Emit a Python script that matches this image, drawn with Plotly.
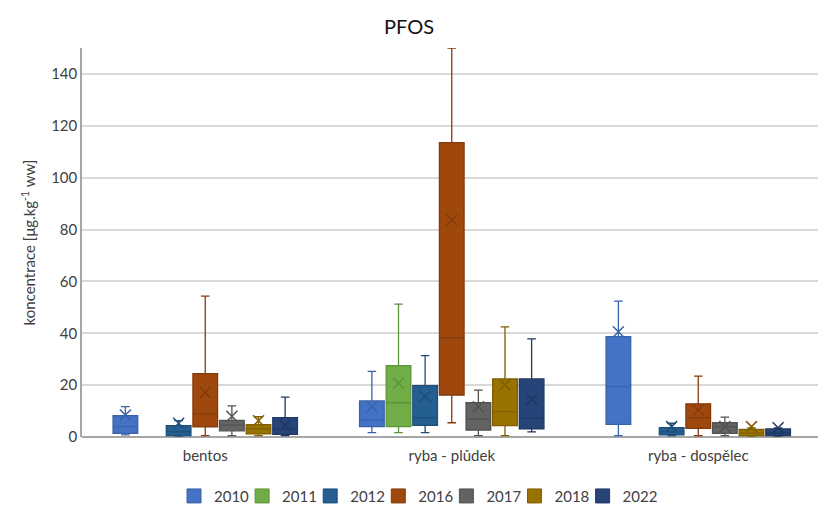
import plotly.graph_objects as go

# Categories and series
categories = ["bentos", "ryba - plůdek", "ryba - dospělec"]
years = ["2010", "2011", "2012", "2016", "2017", "2018", "2022"]

# Box statistics per year (rows) for each category (columns); None = no data
lower = [
    [0.8, 1.7, 0.5],
    [None, 1.7, None],
    [0.3, 1.7, 0.5],
    [0.5, 5.5, 0.5],
    [0.5, 0.5, 0.5],
    [0.5, 0.5, 0.3],
    [0.5, 2.0, 0.3],
]
q1 = [
    [1.4, 4.0, 4.9],
    [None, 4.0, None],
    [0.5, 4.5, 0.8],
    [3.9, 16.2, 3.3],
    [2.4, 2.7, 1.4],
    [1.2, 4.4, 0.5],
    [1.0, 3.1, 0.5],
]
median = [
    [4.0, 6.6, 19.4],
    [None, 13.2, None],
    [2.0, 7.5, 2.0],
    [8.9, 38.3, 7.5],
    [4.6, 6.9, 4.0],
    [3.1, 9.8, 1.5],
    [3.0, 7.2, 1.5],
]
q3 = [
    [8.2, 13.9, 38.7],
    [None, 27.5, None],
    [4.4, 19.8, 3.6],
    [24.4, 113.5, 12.8],
    [6.4, 13.2, 5.5],
    [4.8, 22.4, 2.9],
    [7.5, 22.4, 3.1],
]
upper = [
    [11.7, 25.3, 52.4],
    [None, 51.2, None],
    [6.3, 31.4, 5.3],
    [54.3, 150.0, 23.5],
    [12.0, 18.1, 7.7],
    [7.8, 42.5, 3.5],
    [15.4, 37.8, 3.5],
]
mean = [
    [8.5, 11.7, 40.6],
    [None, 20.7, None],
    [5.3, 15.6, 4.0],
    [17.1, 83.7, 10.4],
    [8.0, 11.7, 4.0],
    [6.3, 20.1, 4.0],
    [4.4, 14.5, 3.6],
]

fills = ["#4472C4", "#70AD47", "#255E91", "#9E480E", "#636363", "#997300", "#264478"]
edges = ["#3A62AA", "#5E9439", "#1E4E7A", "#843B0B", "#525252", "#7F5F00", "#1E3864"]

SLOT = 0.108   # spacing between series inside a category
BOXW = 0.100   # box width in category units
font_family = "Lato, 'Open Sans', sans-serif"

fig = go.Figure()
n = len(years)
legends = {}
for i, yr in enumerate(years):
    off = (i - (n - 1) / 2) * SLOT
    idx = [c for c in range(len(categories)) if q1[i][c] is not None]
    xs = [c + off for c in idx]
    fig.add_trace(go.Box(
        x=xs,
        q1=[q1[i][c] for c in idx],
        median=[median[i][c] for c in idx],
        q3=[q3[i][c] for c in idx],
        lowerfence=[lower[i][c] for c in idx],
        upperfence=[upper[i][c] for c in idx],
        width=BOXW,
        whiskerwidth=0.35,
        fillcolor=fills[i],
        line=dict(color=edges[i], width=1.3),
        boxpoints=False,
        showlegend=False,
        hoverinfo="skip",
    ))
    fig.add_trace(go.Scatter(
        x=xs,
        y=[mean[i][c] for c in idx],
        mode="markers",
        marker=dict(symbol="x-thin-open", size=11,
                    line=dict(color=edges[i], width=1.5), color=edges[i]),
        showlegend=False,
        hoverinfo="skip",
    ))
    # one single-entry legend per year, laid out in a row under the chart
    lg = "legend" if i == 0 else f"legend{i + 1}"
    fig.add_trace(go.Scatter(
        x=[None], y=[None], mode="markers", name=yr, legend=lg,
        marker=dict(symbol="square", size=14, color=fills[i],
                    line=dict(color=edges[i], width=1)),
    ))
    legends[lg] = dict(
        orientation="h", x=(174 + i * 68.1) / 818, xref="container", xanchor="left",
        y=0.029, yref="container", yanchor="middle",
        font=dict(size=15, color="#404040", family=font_family),
        bgcolor="rgba(0,0,0,0)",
    )

fig.update_layout(
    width=818, height=511,
    margin=dict(l=82, r=0, t=48, b=74),
    paper_bgcolor="white", plot_bgcolor="white",
    font=dict(family=font_family, size=15, color="#404040"),
    title=dict(text="PFOS", x=0.5, xref="container", xanchor="center",
               y=0.947, yref="container", yanchor="middle",
               font=dict(size=20, color="#111111", family=font_family)),
    showlegend=True,
    **legends,
)
fig.update_xaxes(
    range=[-0.5, -0.5 + 736 / 246.5],
    tickvals=list(range(len(categories))), ticktext=categories,
    showgrid=False, zeroline=False, showline=False, ticks="",
    tickfont=dict(size=15, color="#404040"), ticklabelstandoff=8,
)
fig.update_yaxes(
    range=[0, 150], dtick=20, tick0=0,
    showgrid=True, gridcolor="#D9D9D9", gridwidth=1.5,
    zeroline=True, zerolinecolor="#A6A6A6", zerolinewidth=1.5,
    showline=True, linecolor="#A6A6A6", linewidth=1.5,
    ticks="", tickfont=dict(size=15, color="#404040"),
    title=dict(text="koncentrace [μg.kg<sup>-1</sup> ww]",
               font=dict(size=15, color="#404040"), standoff=12),
)

fig.write_html("out.html")
